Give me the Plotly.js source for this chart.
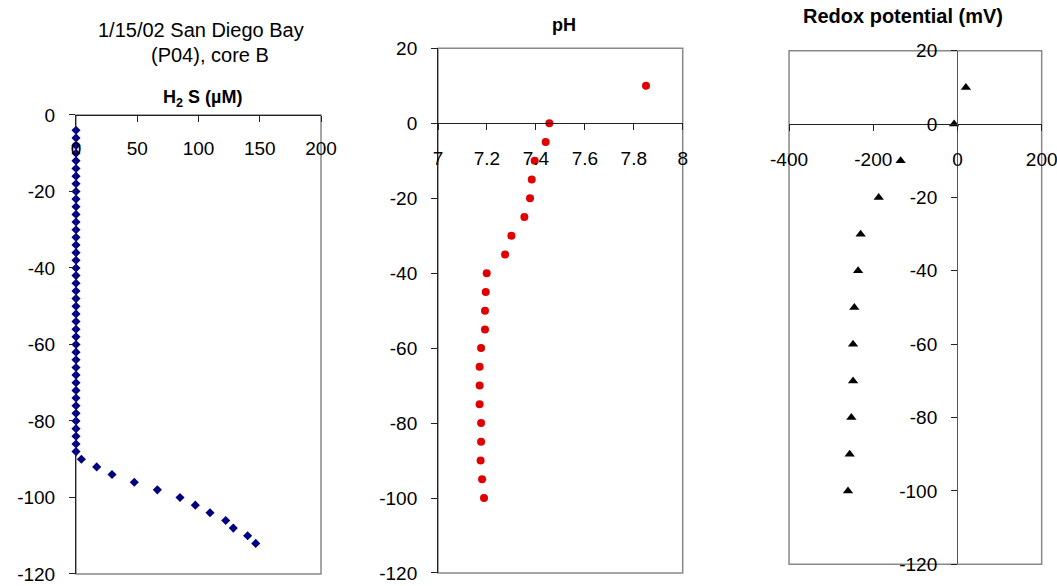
<!DOCTYPE html>
<html>
<head>
<meta charset="utf-8">
<script src="https://cdn.plot.ly/plotly-3.0.1.min.js"></script>
<style>html,body{margin:0;padding:0;background:#fff;}#chart{width:1057px;height:586px;}</style>
</head>
<body>
<div id="chart"></div>
<script>
// H2S profile (depth, µM)
const h2sDepth = [-4,-6,-8,-10,-12,-14,-16,-18,-20,-22,-24,-26,-28,-30,-32,-34,-36,-38,-40,-42,-44,-46,-48,-50,-52,-54,-56,-58,-60,-62,-64,-66,-68,-70,-72,-74,-76,-78,-80,-82,-84,-86,-88,
                  -90,-92,-94,-96,-98,-100,-102,-104,-106,-108,-110,-112];
const h2sValue = [0,0,0,0,0,0,0,0,0,0,0,0,0,0,0,0,0,0,0,0,0,0,0,0,0,0,0,0,0,0,0,0,0,0,0,0,0,0,0,0,0,0,0,
                  4.4,16.9,29.4,47.6,66.4,84.9,97.4,109.4,122.2,128.4,140.1,146.7];
// pH profile
const phDepth = [10,0,-5,-10,-15,-20,-25,-30,-35,-40,-45,-50,-55,-60,-65,-70,-75,-80,-85,-90,-95,-100];
const phValue = [7.85,7.455,7.44,7.395,7.383,7.376,7.353,7.30,7.274,7.199,7.195,7.192,7.192,7.176,7.170,7.170,7.170,7.176,7.176,7.174,7.180,7.188];
// Redox profile (mV)
const redoxDepth = [10,0,-10,-20,-30,-40,-50,-60,-70,-80,-90,-100];
const redoxValue = [20,-8,-135,-187,-230,-236,-245,-248,-248,-252,-256,-260];

// Tick values and labels
const h2sTickVals = [0, 50, 100, 150, 200];
const h2sTickText = ['0', '50', '100', '150', '200'];
const phTickVals = [7, 7.2, 7.4, 7.6, 7.8, 8];
const phTickText = ['7', '7.2', '7.4', '7.6', '7.8', '8'];
const redoxTickVals = [-400, -200, 0, 200];
const redoxTickText = ['-400', '-200', '0', '200'];
const depthTickVals1 = [0, -20, -40, -60, -80, -100, -120];
const depthTickText1 = ['0', '-20', '-40', '-60', '-80', '-100', '-120'];
const depthTickVals2 = [20, 0, -20, -40, -60, -80, -100, -120];
const depthTickText2 = ['20', '0', '-20', '-40', '-60', '-80', '-100', '-120'];

const FONT = 'Liberation Sans, Arial, sans-serif';
const tickFont = {family: FONT, size: 19, color: '#000'};
const AX = '#222';
const GRAY = '#888';

const traces = [
  {x: h2sValue, y: h2sDepth, xaxis: 'x', yaxis: 'y', type: 'scatter', mode: 'markers', cliponaxis: false,
   marker: {symbol: 'diamond', size: 7, color: '#000080'}},
  {x: phValue, y: phDepth, xaxis: 'x2', yaxis: 'y2', type: 'scatter', mode: 'markers', cliponaxis: false,
   marker: {symbol: 'circle', size: 8, color: '#E00000'}},
  {x: redoxValue, y: redoxDepth, xaxis: 'x3', yaxis: 'y3', type: 'scatter', mode: 'markers', cliponaxis: false,
   marker: {symbol: 'triangle-up', size: 9, color: '#000'}}
];

const common = {showgrid: false, zeroline: false, automargin: false, tickfont: tickFont, showline: true,
                linecolor: AX, linewidth: 1, tickcolor: AX, ticklen: 6, tickwidth: 1, fixedrange: true,
                ticklabeloverflow: 'allow', tickmode: 'array'};

const layout = {
  width: 1057, height: 586,
  margin: {l: 0, r: 0, t: 0, b: 0},
  paper_bgcolor: '#fff', plot_bgcolor: 'rgba(0,0,0,0)',
  showlegend: false,
  font: {family: FONT, size: 19, color: '#000'},
  xaxis: Object.assign({}, common, {domain: [0.0719, 0.3037], range: [0, 200], tickvals: h2sTickVals, ticktext: h2sTickText,
         anchor: 'free', position: 0.8038, side: 'bottom', ticks: 'outside', ticklabelstandoff: 10}),
  yaxis: Object.assign({}, common, {domain: [0.0205, 0.8038], range: [-120, 0], tickvals: depthTickVals1, ticktext: depthTickText1,
         anchor: 'x', ticks: 'outside', ticklabelstandoff: 10}),
  xaxis2: Object.assign({}, common, {domain: [0.4144, 0.6459], range: [7, 8], tickvals: phTickVals, ticktext: phTickText,
         anchor: 'free', position: 0.7896, side: 'bottom', ticks: 'outside', ticklabelstandoff: 12}),
  yaxis2: Object.assign({}, common, {domain: [0.0222, 0.9176], range: [-120, 20], tickvals: depthTickVals2, ticktext: depthTickText2,
         anchor: 'x2', ticks: 'outside', ticklabelstandoff: 10}),
  xaxis3: Object.assign({}, common, {domain: [0.7465, 0.9855], range: [-400, 200], tickvals: redoxTickVals, ticktext: redoxTickText,
         anchor: 'free', position: 0.7884, side: 'bottom', ticks: 'outside', ticklabelstandoff: 12}),
  yaxis3: Object.assign({}, common, {domain: [0.0370, 0.9135], range: [-120, 20], tickvals: depthTickVals2, ticktext: depthTickText2,
         anchor: 'free', position: 0.9054, side: 'left', ticks: 'outside', ticklabelstandoff: 10, linecolor: '#555'}),
  shapes: [
    {type: 'rect', xref: 'x domain', yref: 'y domain', x0: 0, x1: 1, y0: 0, y1: 1, line: {color: GRAY, width: 1.5}, layer: 'below'},
    {type: 'rect', xref: 'x2 domain', yref: 'y2 domain', x0: 0, x1: 1, y0: 0, y1: 1, line: {color: GRAY, width: 1.5}, layer: 'below'},
    {type: 'rect', xref: 'x3 domain', yref: 'y3 domain', x0: 0, x1: 1, y0: 0, y1: 1, line: {color: GRAY, width: 1.5}, layer: 'below'}
  ],
  annotations: [
    {xref: 'paper', yref: 'paper', x: 201/1057, y: 1 - 30/586, text: '1/15/02 San Diego Bay', showarrow: false,
     xanchor: 'center', yanchor: 'middle', font: {family: FONT, size: 20}},
    {xref: 'paper', yref: 'paper', x: 210/1057, y: 1 - 55/586, text: '(P04), core B', showarrow: false,
     xanchor: 'center', yanchor: 'middle', font: {family: FONT, size: 20}},
    {xref: 'paper', yref: 'paper', x: 202/1057, y: 1 - 98/586, text: '<b>H<sub>2</sub> S (µM)</b>', showarrow: false,
     xanchor: 'center', yanchor: 'middle', font: {family: FONT, size: 18}},
    {xref: 'paper', yref: 'paper', x: 564/1057, y: 1 - 25/586, text: '<b>pH</b>', showarrow: false,
     xanchor: 'center', yanchor: 'middle', font: {family: FONT, size: 18}},
    {xref: 'paper', yref: 'paper', x: 903/1057, y: 1 - 16/586, text: '<b>Redox potential (mV)</b>', showarrow: false,
     xanchor: 'center', yanchor: 'middle', font: {family: FONT, size: 20}}
  ]
};

Plotly.newPlot('chart', traces, layout, {displayModeBar: false, staticPlot: true});
</script>
</body>
</html>
